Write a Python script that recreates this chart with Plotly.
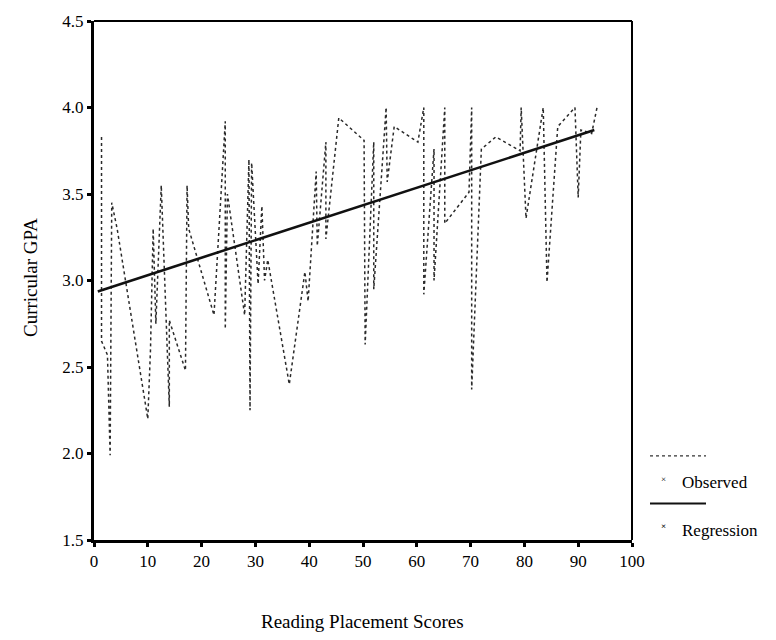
import numpy as np
import plotly.graph_objects as go

# Observed scores (sorted by reading placement score), joined in order
reading_scores = [
    1.4, 1.4, 2.5, 3.0, 3.3, 4.3, 10.0, 10.5, 11.0, 11.5, 12.5, 14.0, 14.0,
    17.0, 17.3, 17.6, 22.3, 24.4, 24.4, 24.8, 28.0, 28.8, 29.0, 29.3, 30.5,
    31.2, 31.7, 32.3, 36.3, 39.2, 39.8, 41.3, 41.5, 43.1, 43.1, 45.5, 50.2,
    50.4, 52.0, 52.0, 54.3, 54.5, 55.8, 60.2, 61.3, 61.3, 63.2, 63.2, 65.2,
    65.2, 69.7, 70.2, 70.2, 72.0, 74.7, 79.2, 79.4, 80.3, 83.5, 84.2, 86.2,
    89.4, 90.0, 90.5, 92.5, 93.5,
]
curricular_gpa = [
    3.83, 2.65, 2.57, 1.99, 3.45, 3.30, 2.20, 2.60, 3.30, 2.75, 3.55, 2.27, 2.77,
    2.48, 3.55, 3.30, 2.80, 3.92, 2.72, 3.50, 2.80, 3.70, 2.25, 3.68, 2.98,
    3.43, 3.00, 3.12, 2.40, 3.05, 2.88, 3.63, 3.20, 3.80, 3.24, 3.94, 3.81,
    2.63, 3.80, 2.95, 4.00, 3.57, 3.89, 3.80, 4.00, 2.92, 3.76, 3.00, 4.00,
    3.33, 3.51, 4.00, 2.37, 3.76, 3.83, 3.75, 4.00, 3.36, 4.00, 2.99, 3.89,
    4.00, 3.48, 3.87, 3.85, 4.00,
]

# Linear regression coefficients (GPA = b0 + b1 * score) and fitted span
reg_intercept = 2.93
reg_slope = 0.0101
reg_span = [0.7, 93.0]

x_ticks = [0, 10, 20, 30, 40, 50, 60, 70, 80, 90, 100]
y_ticks = [1.5, 2.0, 2.5, 3.0, 3.5, 4.0, 4.5]

FONT = "Liberation Serif, Times New Roman, serif"

reg_x = np.array(reg_span)
reg_y = reg_intercept + reg_slope * reg_x

fig = go.Figure()
fig.add_trace(go.Scatter(
    x=reading_scores, y=curricular_gpa, mode="lines", name="Observed",
    line=dict(color="#2a2a2a", width=1.5, dash="dot"),
))
fig.add_trace(go.Scatter(
    x=reg_x, y=reg_y, mode="lines", name="Regression",
    line=dict(color="#111111", width=2.6),
))

W, H = 776, 640
L, R, T, B = 94, 632, 15, 540


def px(xp):
    return (xp - L) / (R - L)


def py(yp):
    return (B - yp) / (B - T)


# Frame: thick left/bottom axes, thinner top/right borders
fig.add_shape(type="line", xref="paper", yref="paper", x0=0, x1=1, y0=1, y1=1,
              line=dict(color="black", width=2))
fig.add_shape(type="line", xref="paper", yref="paper", x0=1, x1=1, y0=0, y1=1,
              line=dict(color="black", width=2))

# Legend drawn at the right of the plot
fig.add_shape(type="line", xref="paper", yref="paper",
              x0=px(650), x1=px(706), y0=py(455), y1=py(455),
              line=dict(color="#333", width=1.2, dash="dot"))
fig.add_shape(type="line", xref="paper", yref="paper",
              x0=px(650), x1=px(706), y0=py(503), y1=py(503),
              line=dict(color="#111", width=2))
legend_items = [("Observed", 482, "×", 9), ("Regression", 530, "<b>×</b>", 9)]
for label, ypos, glyph, gsize in legend_items:
    fig.add_annotation(xref="paper", yref="paper", x=px(680), y=py(ypos),
                       text=label, showarrow=False, xanchor="left",
                       yanchor="middle", font=dict(family=FONT, size=17, color="black"))
    fig.add_annotation(xref="paper", yref="paper", x=px(663), y=py(ypos - 4),
                       text=glyph, showarrow=False, xanchor="center",
                       yanchor="middle", font=dict(family=FONT, size=gsize, color="black"))

# Axis titles
fig.add_annotation(xref="paper", yref="paper", x=px(362), y=py(622),
                   text="Reading Placement Scores", showarrow=False,
                   xanchor="center", yanchor="middle",
                   font=dict(family=FONT, size=19, color="black"))
fig.add_annotation(xref="paper", yref="paper", x=px(30), y=py(275),
                   text="Curricular GPA", showarrow=False, textangle=-90,
                   xanchor="center", yanchor="middle",
                   font=dict(family=FONT, size=19, color="black"))

fig.update_layout(
    width=W, height=H,
    margin=dict(l=L, r=W - R, t=T, b=H - B),
    paper_bgcolor="white", plot_bgcolor="white",
    showlegend=False,
    font=dict(family=FONT, size=17, color="black"),
    xaxis=dict(range=[0, 100], tickvals=x_ticks, showgrid=False, zeroline=False,
               showline=True, linecolor="black", linewidth=3,
               ticks="outside", ticklen=4, tickwidth=3, tickcolor="black",
               tickfont=dict(family=FONT, size=17, color="black")),
    yaxis=dict(range=[1.5, 4.5], tickvals=y_ticks, tickformat=".1f",
               showgrid=False, zeroline=False,
               showline=True, linecolor="black", linewidth=3,
               ticks="outside", ticklen=4, tickwidth=3, tickcolor="black",
               tickfont=dict(family=FONT, size=17, color="black")),
)

fig.write_html("out.html")
